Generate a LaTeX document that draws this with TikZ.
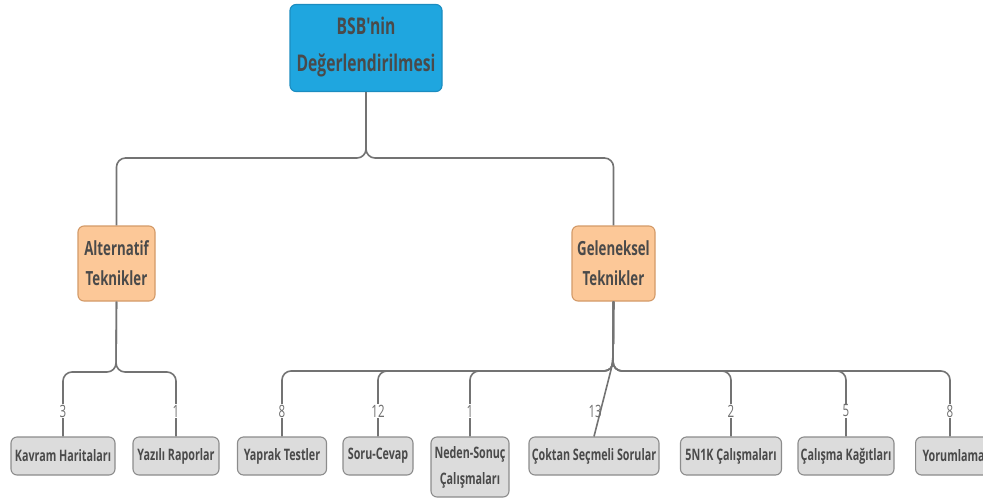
\documentclass[tikz,border=0pt]{standalone}
\usepackage{fontspec}
\setmainfont{Open Sans}[FakeStretch=0.68, Ligatures=TeXOff]
\definecolor{rootblue}{HTML}{1FA6DF}
\definecolor{rootedge}{HTML}{1B8CC0}
\definecolor{peach}{HTML}{FCC898}
\definecolor{peachedge}{HTML}{D39A68}
\definecolor{leafgrey}{HTML}{DCDCDC}
\definecolor{leafedge}{HTML}{8C8C8C}
\definecolor{txt}{HTML}{4A4A4A}
\definecolor{linkgrey}{HTML}{737373}
\definecolor{numgrey}{HTML}{707070}
\begin{document}
\begin{tikzpicture}[x=1pt,y=-1pt,
  box/.style={draw, rounded corners=6pt, line width=1.1pt, align=center,
    text=txt, inner sep=0pt},
  rootbox/.style={box, fill=rootblue, draw=rootedge, minimum width=152pt,
    minimum height=87pt, font=\bfseries\fontsize{23}{37}\selectfont},
  midbox/.style={box, fill=peach, draw=peachedge, minimum height=75pt,
    font=\bfseries\fontsize{19.5}{30}\selectfont},
  leaf/.style={box, fill=leafgrey, draw=leafedge, minimum height=38pt,
    font=\bfseries\fontsize{15.8}{26}\selectfont},
  link/.style={draw=linkgrey, line width=1.6pt, rounded corners=9pt},
  num/.style={fill=white, text=numgrey, inner sep=1pt,
    font=\fontsize{17}{17}\selectfont}]
\useasboundingbox (0,0) rectangle (983,499);

% tree nodes
\node[rootbox, text depth=8pt] (root) at (366,48) {BSB'nin\\Değerlendirilmesi};
\node[midbox, minimum width=77pt] (alt) at (116.5,263.5) {Alternatif\\Teknikler};
\node[midbox, minimum width=83pt] (gel) at (613.5,263.5) {Geleneksel\\Teknikler};

\node[leaf, minimum width=104pt] (kavram) at (63,456) {Kavram Haritaları};
\node[leaf, minimum width=86pt] (yazili) at (176,456) {Yazılı Raporlar};
\node[leaf, minimum width=89pt] (yaprak) at (282,456) {Yaprak Testler};
\node[leaf, minimum width=70pt] (soru) at (378,456) {Soru-Cevap};
\node[leaf, minimum width=78pt, minimum height=60pt] (neden) at (470,467) {Neden-Sonuç\\Çalışmaları};
\node[leaf, minimum width=130pt] (coktan) at (594,456) {Çoktan Seçmeli Sorular};
\node[leaf, minimum width=101pt] (besn) at (731,456) {5N1K Çalışmaları};
\node[leaf, minimum width=96pt] (calisma) at (846,456) {Çalışma Kağıtları};
\node[leaf, minimum width=76pt, anchor=west] (yorum) at (915,456) {Yorumlama};

% connectors: root level
\draw[link] (root.south) -- (366,158) -| (alt.north);
\draw[link] (root.south) -- (366,158) -| (gel.north);

% connectors: alternative techniques
\draw[link] (alt.south) -- (116,372) -| (kavram.north);
\draw[link] (alt.south) -- (116,372) -| (yazili.north);

% connectors: traditional techniques
\draw[link] (gel.south) -- (613,371) -| (yaprak.north);
\draw[link] (gel.south) -- (613,371) -| (soru.north);
\draw[link] (gel.south) -- (613,371) -| (neden.north);
\draw[link] (gel.south) -- (613,371) -| (besn.north);
\draw[link] (gel.south) -- (613,371) -| (calisma.north);
\draw[link] (gel.south) -- (613,371) -| (yorum.north -| 950,0);
\coordinate (ctip) at (613,362);
\draw[link] (gel.south) -- (ctip) -- (coktan.north);

% counts on the connectors
\node[num] (c1) at (63,411) {3};
\node[num] (c2) at (176,411) {1};
\node[num] (c3) at (282,411) {8};
\node[num] (c4) at (378,411) {12};
\node[num] (c5) at (470,411) {1};
\node[num, fill=none, anchor=east] (c6) at (603,411) {13};
\node[num] (c7) at (731,411) {2};
\node[num] (c8) at (846,411) {5};
\node[num] (c9) at (950,411) {8};
\end{tikzpicture}
\end{document}
